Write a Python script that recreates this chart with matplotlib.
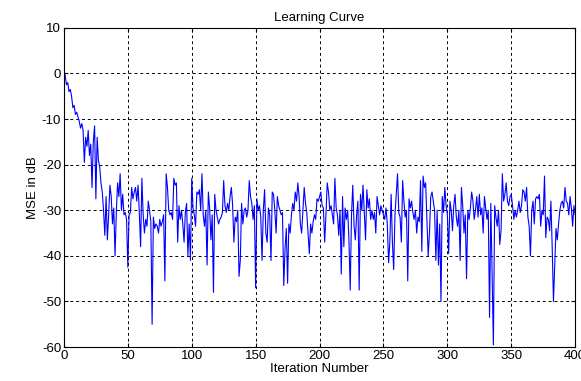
import numpy as np
import matplotlib
matplotlib.use("Agg")
import matplotlib.pyplot as plt

mse_db = [
    1.0, -0.5, -2.5, -2.0, -4.0, -3.5, -5.0, -7.5, -7.0, -9.0,
    -8.5, -9.5, -10.5, -12.0, -11.0, -12.5, -19.5, -14.0, -16.0, -12.5,
    -18.0, -15.5, -25.0, -15.0, -11.5, -27.5, -14.0, -19.0, -20.5, -24.0,
    -26.0, -30.0, -35.5, -27.0, -36.5, -31.0, -24.5, -27.0, -33.0, -29.5,
    -40.0, -30.5, -24.0, -27.0, -22.0, -30.0, -26.5, -31.0, -30.5, -32.0,
    -42.5, -31.0, -30.5, -25.0, -27.5, -26.0, -25.0, -28.0, -24.5, -30.5,
    -38.0, -23.0, -31.0, -35.0, -32.0, -33.5, -28.0, -30.0, -32.5, -55.0,
    -31.5, -34.0, -33.0, -33.5, -35.0, -32.0, -33.5, -32.5, -31.0, -45.5,
    -22.0, -25.0, -30.0, -31.0, -30.5, -32.0, -23.0, -24.5, -24.0, -37.0,
    -29.0, -32.0, -30.0, -33.0, -37.0, -30.5, -28.5, -40.0, -33.0, -41.0,
    -23.0, -29.5, -31.0, -33.5, -26.0, -26.5, -25.5, -30.0, -22.0, -31.0,
    -33.5, -30.0, -42.0, -26.0, -29.5, -36.5, -31.0, -48.0, -26.5, -30.0,
    -31.5, -33.0, -32.0, -31.5, -30.5, -23.5, -29.0, -30.5, -28.5, -30.0,
    -27.0, -25.0, -29.0, -37.0, -31.5, -32.5, -30.0, -44.5, -41.0, -28.5,
    -33.0, -30.0, -29.5, -31.5, -30.0, -23.5, -27.0, -28.5, -32.0, -29.0,
    -47.0, -27.5, -30.0, -29.0, -31.5, -41.0, -30.0, -25.5, -35.0, -37.0,
    -29.5, -31.0, -41.0, -26.0, -26.5, -30.0, -35.0, -27.0, -29.0, -30.0,
    -31.0, -30.5, -46.5, -38.5, -34.0, -46.0, -33.0, -35.0, -31.0, -28.5,
    -30.0, -26.0, -28.0, -24.0, -27.0, -33.0, -35.0, -30.0, -25.0, -28.5,
    -30.5, -35.0, -39.5, -33.0, -35.0, -32.5, -31.0, -32.0, -27.5, -28.0,
    -27.0, -26.0, -29.0, -29.5, -37.0, -31.0, -24.0, -26.0, -30.0, -29.0,
    -31.0, -33.0, -23.0, -29.5, -31.0, -35.5, -30.0, -44.0, -27.0, -38.0,
    -29.5, -32.0, -30.0, -36.5, -47.5, -31.0, -24.5, -33.5, -36.5, -31.0,
    -28.0, -47.5, -26.5, -30.0, -24.5, -30.5, -36.5, -25.5, -29.5, -27.5,
    -32.0, -30.0, -32.0, -30.5, -35.0, -27.0, -29.0, -31.0, -29.0, -30.0,
    -31.0, -32.0, -29.5, -33.0, -41.5, -37.0, -26.5, -37.0, -43.0, -31.0,
    -26.5, -22.0, -30.5, -31.5, -37.0, -23.5, -28.0, -31.5, -30.0, -45.5,
    -27.5, -29.5, -28.0, -30.5, -32.0, -30.0, -35.0, -31.5, -32.5, -23.5,
    -39.0, -22.5, -25.0, -24.0, -32.0, -40.0, -35.0, -27.0, -26.0, -28.0,
    -30.0, -41.0, -30.0, -42.0, -33.0, -50.0, -27.0, -30.5, -25.0, -29.0,
    -31.0, -39.5, -28.0, -30.0, -34.5, -29.0, -26.5, -31.5, -33.5, -30.0,
    -41.0, -25.0, -29.0, -35.0, -31.0, -45.0, -30.0, -32.0, -29.5, -26.0,
    -28.0, -32.0, -30.0, -27.0, -31.5, -26.5, -31.0, -29.5, -35.0, -27.0,
    -29.5, -32.0, -30.0, -53.5, -28.5, -44.5, -59.5, -29.0, -31.5, -33.5,
    -30.0, -37.5, -34.5, -22.0, -28.0, -26.5, -24.0, -28.0, -29.0, -27.0,
    -26.5, -29.0, -32.0, -30.0, -31.5, -30.0, -28.0, -30.5, -29.0, -25.5,
    -26.0, -28.0, -25.0, -31.5, -33.5, -40.0, -30.0, -28.0, -33.0, -27.5,
    -27.0, -27.5, -26.5, -33.5, -30.0, -31.0, -22.5, -36.0, -31.5, -32.0,
    -34.5, -28.0, -38.0, -50.0, -42.0, -34.0, -36.5, -33.0, -30.0, -28.5,
    -28.0, -29.5, -25.0, -28.0, -28.5, -31.0, -27.0, -29.5, -33.5, -29.0,
    -31.0,
]
iterations = list(range(len(mse_db)))

x_ticks = [0, 50, 100, 150, 200, 250, 300, 350, 400]
y_ticks = [-60, -50, -40, -30, -20, -10, 0, 10]

plt.rcParams['font.family'] = ['Liberation Sans', 'DejaVu Sans']
plt.rcParams['axes.unicode_minus'] = False

fig = plt.figure(figsize=(5.81, 3.81), dpi=100)
ax = fig.add_axes([0.110, 0.089, 0.880, 0.838])
ax.plot(iterations, mse_db, color='#0000ff', lw=0.8)
ax.set_xlim(0, 400)
ax.set_ylim(-60, 10)
ax.set_xticks(x_ticks)
ax.set_yticks(y_ticks)
ax.grid(True, color='black', linestyle=(0, (3, 3)), lw=0.7)
ax.tick_params(direction='in', top=True, right=True, labelsize=9.5, length=3, pad=2)
for s in ax.spines.values():
    s.set_linewidth(0.8)
ax.set_title('Learning Curve', fontsize=9.5, pad=5)
ax.set_xlabel('Iteration Number', fontsize=9.5, labelpad=1)
ax.set_ylabel('MSE in dB', fontsize=9.5, labelpad=2)
fig.savefig('out.png', dpi=100)
